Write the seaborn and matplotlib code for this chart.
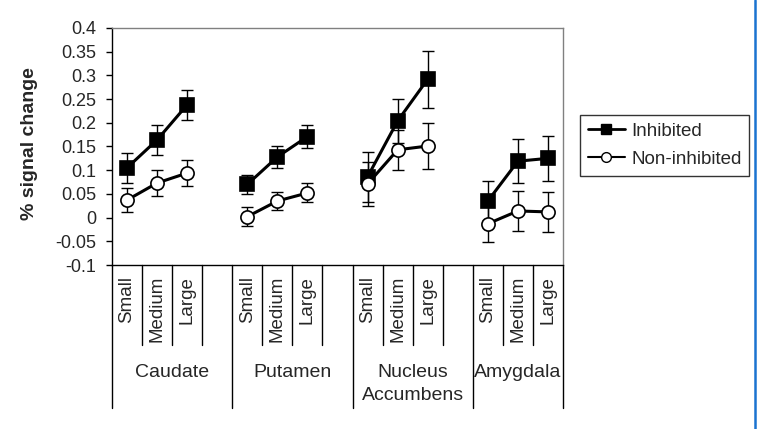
import pandas as pd
import matplotlib
matplotlib.use('Agg')
import matplotlib.pyplot as plt
import matplotlib.transforms as mtransforms
from matplotlib.lines import Line2D
import seaborn as sns

sns.set_style('white')
plt.rcParams['font.family'] = ['Liberation Sans', 'DejaVu Sans']

# Dữ liệu
regions = ['Caudate', 'Putamen', 'Nucleus\nAccumbens', 'Amygdala']
sizes = ['Small', 'Medium', 'Large']

inhibited = [0.105, 0.164, 0.238,
             0.070, 0.128, 0.171,
             0.086, 0.204, 0.292,
             0.035, 0.119, 0.125]
inhibited_err = [0.031, 0.031, 0.032,
                 0.020, 0.024, 0.024,
                 0.053, 0.047, 0.060,
                 0.043, 0.047, 0.047]
non_inhibited = [0.037, 0.073, 0.094,
                 0.002, 0.035, 0.052,
                 0.071, 0.143, 0.151,
                 -0.013, 0.014, 0.012]
non_inhibited_err = [0.025, 0.028, 0.028,
                     0.020, 0.020, 0.020,
                     0.047, 0.042, 0.048,
                     0.038, 0.042, 0.042]

y_ticks = [-0.1, -0.05, 0, 0.05, 0.1, 0.15, 0.2, 0.25, 0.3, 0.35, 0.4]

# Bảng dữ liệu dạng dài
rows = []
for series, vals, errs in [('Inhibited', inhibited, inhibited_err),
                           ('Non-inhibited', non_inhibited, non_inhibited_err)]:
    for i, (v, e) in enumerate(zip(vals, errs)):
        r, s = divmod(i, 3)
        rows.append({'series': series, 'region': regions[r], 'size': sizes[s],
                     'pos': r * 4 + s, 'value': v, 'err': e})
df = pd.DataFrame(rows)

W, H = 757, 429
fig = plt.figure(figsize=(W / 100, H / 100), dpi=100)
ax_left, ax_right, ax_top, ax_bottom = 112, 563, 28, 265
ax = fig.add_axes([ax_left / W, 1 - ax_bottom / H,
                   (ax_right - ax_left) / W, (ax_bottom - ax_top) / H])

styles = {'Inhibited': dict(marker='s', mfc='black'),
          'Non-inhibited': dict(marker='o', mfc='white')}

for series, st in styles.items():
    sub = df[df['series'] == series]
    ax.errorbar(sub['pos'], sub['value'], yerr=sub['err'], fmt='none',
                ecolor='black', elinewidth=1, capsize=4, capthick=1, zorder=2)
    sns.lineplot(data=sub, x='pos', y='value', units='region', estimator=None,
                 color='black', lw=2.2, marker=st['marker'], ms=9.5,
                 mfc=st['mfc'], mec='black', mew=1.2, ax=ax, zorder=3,
                 legend=False)

ax.set_xlim(-0.5, 14.5)
ax.set_ylim(-0.1, 0.4)
ax.set_xticks([])
ax.set_yticks(y_ticks)
ax.set_yticklabels([f'{t:g}' for t in y_ticks], fontsize=13)
ax.tick_params(axis='y', direction='out', length=4.5, width=1, pad=7,
               left=True, color='black')
ax.set_xlabel('')
ax.set_ylabel('')

for side in ['top', 'right']:
    ax.spines[side].set_color('#808080')
    ax.spines[side].set_linewidth(1)
for side in ['left', 'bottom']:
    ax.spines[side].set_color('black')
    ax.spines[side].set_linewidth(1)

# Trục x phân nhóm
trans = mtransforms.blended_transform_factory(ax.transData, ax.transAxes)
axis_h = ax_bottom - ax_top
short_y = (ax_bottom - 345) / axis_h
long_y = (ax_bottom - 408) / axis_h
label_y = (ax_bottom - 276) / axis_h
group_y = (ax_bottom - 364) / axis_h

n_slots = 15
for b in range(n_slots + 1):
    x = b - 0.5
    is_long = (b % 4 == 0) or b == n_slots
    ax.plot([x, x], [0, long_y if is_long else short_y], color='black',
            lw=1, transform=trans, clip_on=False)

for r, reg in enumerate(regions):
    for s, sz in enumerate(sizes):
        ax.text(r * 4 + s, label_y, sz, rotation=90, ha='center', va='top',
                fontsize=13.5, transform=trans)
    n = 3 if r == len(regions) - 1 else 4
    ax.text(r * 4 + (n - 1) / 2, group_y, reg, ha='center', va='top',
            fontsize=14, linespacing=1.45, transform=trans)

fig.text(30 / W, 1 - 144 / H, '% signal change', rotation=90, ha='center',
         va='center', fontsize=14, fontweight='bold')

handles = [Line2D([], [], color='black', lw=2, marker='s', ms=7, mfc='black',
                  mec='black'),
           Line2D([], [], color='black', lw=1.5, marker='o', ms=7, mfc='white',
                  mec='black')]
leg = fig.legend(handles, ['Inhibited', 'Non-inhibited'], loc='upper left',
                 bbox_to_anchor=(580 / W, 1 - 115 / H), fontsize=13.5,
                 frameon=True, fancybox=False, framealpha=1, edgecolor='#333333',
                 handlelength=2.0, handletextpad=0.35, labelspacing=0.6,
                 borderpad=0.4, borderaxespad=0)
leg.get_frame().set_linewidth(1)

fig.add_artist(Line2D([755 / W, 755 / W], [0, 1], color='#1a73d0', lw=1.8,
                      transform=fig.transFigure))

fig.savefig('out.png', dpi=100)
